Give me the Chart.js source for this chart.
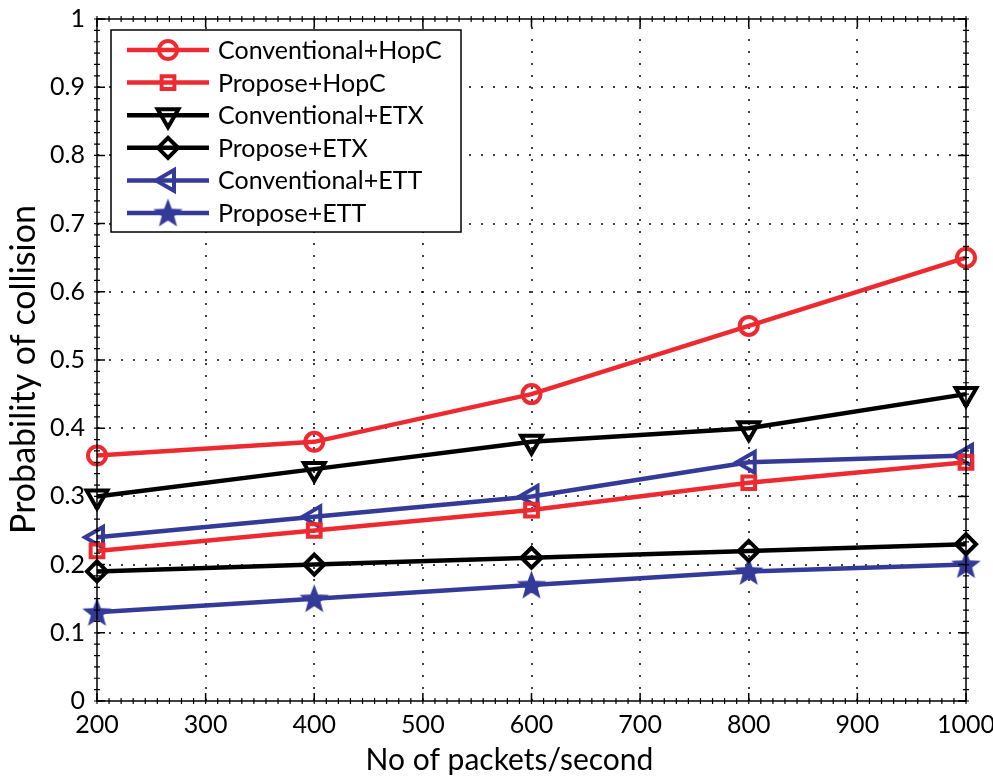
<!DOCTYPE html>
<html>
<head>
<meta charset="utf-8">
<script src="https://cdn.jsdelivr.net/npm/chart.js@4/dist/chart.umd.min.js"></script>
<style>
  html, body { margin: 0; padding: 0; background: #fff; }
  #wrap { width: 993px; height: 776px; }
</style>
</head>
<body>
<div id="wrap"><canvas id="c" width="993" height="776"></canvas></div>
<script>
// ---- data ----
const xValues = [200, 400, 600, 800, 1000];
const seriesNames = ['Conventional+HopC', 'Propose+HopC', 'Conventional+ETX', 'Propose+ETX', 'Conventional+ETT', 'Propose+ETT'];
const conventionalHopC = [0.36, 0.38, 0.45, 0.55, 0.65];
const proposeHopC      = [0.22, 0.25, 0.28, 0.32, 0.35];
const conventionalETX  = [0.30, 0.34, 0.38, 0.40, 0.45];
const proposeETX       = [0.19, 0.20, 0.21, 0.22, 0.23];
const conventionalETT  = [0.24, 0.27, 0.30, 0.35, 0.36];
const proposeETT       = [0.13, 0.15, 0.17, 0.19, 0.20];
const xTicks = [200, 300, 400, 500, 600, 700, 800, 900, 1000];
const yTicks = [0, 0.1, 0.2, 0.3, 0.4, 0.5, 0.6, 0.7, 0.8, 0.9, 1];
const xTickLabels = ['200', '300', '400', '500', '600', '700', '800', '900', '1000'];
const yTickLabels = ['0', '0.1', '0.2', '0.3', '0.4', '0.5', '0.6', '0.7', '0.8', '0.9', '1'];
const xTitle = 'No of packets/second';
const yTitle = 'Probability of collision';

// ---- styles ----
const RED = '#ec2a30', BLUE = '#343a98', BLACK = '#000000';
const FONT = "Lato, 'Noto Sans', 'DejaVu Sans', sans-serif";

// filled five-point star marker
function makeStar(rOuter, color) {
  const s = Math.ceil(rOuter * 2 + 2);
  const cv = document.createElement('canvas');
  cv.width = s; cv.height = s;
  const g = cv.getContext('2d');
  const cx = s / 2, cy = s / 2 + 1, rInner = rOuter * 0.42;
  g.beginPath();
  for (let i = 0; i < 10; i++) {
    const r = i % 2 === 0 ? rOuter : rInner;
    const a = -Math.PI / 2 + i * Math.PI / 5;
    const px = cx + r * Math.cos(a), py = cy + r * Math.sin(a);
    if (i === 0) g.moveTo(px, py); else g.lineTo(px, py);
  }
  g.closePath();
  g.fillStyle = color;
  g.fill();
  return cv;
}
const starImg = makeStar(15.5, BLUE);

const seriesValues = [conventionalHopC, proposeHopC, conventionalETX, proposeETX, conventionalETT, proposeETT];
const seriesColors = [RED, RED, BLACK, BLACK, BLUE, BLUE];
const seriesMarkers = [
  { style: 'circle',   rotation: 0,   radius: 9 },
  { style: 'rect',     rotation: 0,   radius: 9 },
  { style: 'triangle', rotation: 180, radius: 12 },
  { style: 'rectRot',  rotation: 0,   radius: 10 },
  { style: 'triangle', rotation: 270, radius: 12 },
  { style: starImg,    rotation: 0,   radius: 15 }
];

const datasets = seriesNames.map((name, i) => ({
  label: name,
  data: xValues.map((x, j) => ({ x: x, y: seriesValues[i][j] })),
  borderColor: seriesColors[i],
  borderWidth: 4.5,
  pointStyle: seriesMarkers[i].style,
  pointRotation: seriesMarkers[i].rotation,
  pointRadius: seriesMarkers[i].radius,
  pointBorderWidth: 4,
  pointBorderColor: seriesColors[i],
  pointBackgroundColor: 'rgba(0,0,0,0)',
  tension: 0,
  fill: false,
  clip: false
}));

const matlabPlugin = {
  id: 'matlabAxes',
  beforeDatasetsDraw(chart) {
    const { ctx, chartArea: a, scales: { x, y } } = chart;
    ctx.save();
    ctx.strokeStyle = '#000';
    ctx.lineWidth = 1.5;
    ctx.setLineDash([2, 10]);
    xTicks.forEach(v => {
      if (v <= x.min || v >= x.max) return;
      const px = Math.round(x.getPixelForValue(v));
      ctx.beginPath(); ctx.moveTo(px, a.bottom); ctx.lineTo(px, a.top); ctx.stroke();
    });
    yTicks.forEach(v => {
      if (v <= y.min || v >= y.max) return;
      const py = Math.round(y.getPixelForValue(v));
      ctx.beginPath(); ctx.moveTo(a.left, py); ctx.lineTo(a.right, py); ctx.stroke();
    });
    ctx.restore();
  },
  afterDatasetsDraw(chart) {
    const { ctx, chartArea: a, scales: { x, y } } = chart;
    ctx.save();
    ctx.strokeStyle = '#000';
    ctx.setLineDash([]);
    ctx.lineWidth = 1.5;
    ctx.strokeRect(a.left, a.top, a.right - a.left, a.bottom - a.top);
    // minor ticks
    ctx.lineWidth = 1.2;
    const xStep = 100 / 9;
    for (let v = x.min; v <= x.max + 0.01; v += xStep) {
      const px = x.getPixelForValue(v);
      ctx.beginPath();
      ctx.moveTo(px, a.bottom - 3); ctx.lineTo(px, a.bottom + 3);
      ctx.moveTo(px, a.top - 3); ctx.lineTo(px, a.top + 3);
      ctx.stroke();
    }
    const yStep = 0.1 / 6;
    for (let v = y.min; v <= y.max + 0.0001; v += yStep) {
      const py = y.getPixelForValue(v);
      ctx.beginPath();
      ctx.moveTo(a.left - 3, py); ctx.lineTo(a.left + 3, py);
      ctx.moveTo(a.right - 3, py); ctx.lineTo(a.right + 3, py);
      ctx.stroke();
    }
    // major ticks (inside)
    ctx.lineWidth = 1.5;
    xTicks.forEach(v => {
      const px = x.getPixelForValue(v);
      ctx.beginPath();
      ctx.moveTo(px, a.bottom); ctx.lineTo(px, a.bottom - 8);
      ctx.moveTo(px, a.top); ctx.lineTo(px, a.top + 8);
      ctx.stroke();
    });
    yTicks.forEach(v => {
      const py = y.getPixelForValue(v);
      ctx.beginPath();
      ctx.moveTo(a.left, py); ctx.lineTo(a.left + 8, py);
      ctx.moveTo(a.right, py); ctx.lineTo(a.right - 8, py);
      ctx.stroke();
    });
    ctx.restore();
  },
  afterDraw(chart) {
    const { ctx } = chart;
    ctx.save();
    // axis titles
    ctx.fillStyle = '#000';
    ctx.font = '30px ' + FONT;
    ctx.textAlign = 'center';
    ctx.textBaseline = 'alphabetic';
    ctx.fillText(xTitle, 509.5, 770);
    ctx.save();
    ctx.translate(35, 369.5);
    ctx.rotate(-Math.PI / 2);
    ctx.font = '34px ' + FONT;
    ctx.fillText(yTitle, 0, 0);
    ctx.restore();
    // legend
    const box = { left: 111, top: 30, right: 461, bottom: 232 };
    ctx.setLineDash([]);
    ctx.fillStyle = '#fff';
    ctx.fillRect(box.left, box.top, box.right - box.left, box.bottom - box.top);
    ctx.strokeStyle = '#000';
    ctx.lineWidth = 1.5;
    ctx.strokeRect(box.left, box.top, box.right - box.left, box.bottom - box.top);
    const rowH = 32.6, y0 = 50;
    chart.data.datasets.forEach((ds, i) => {
      const yy = y0 + i * rowH;
      ctx.strokeStyle = ds.borderColor;
      ctx.lineWidth = 4.5;
      ctx.beginPath(); ctx.moveTo(127, yy); ctx.lineTo(209, yy); ctx.stroke();
      ctx.fillStyle = ds.pointBackgroundColor;
      ctx.strokeStyle = ds.pointBorderColor;
      ctx.lineWidth = ds.pointBorderWidth;
      Chart.helpers.drawPoint(ctx, {
        pointStyle: ds.pointStyle,
        rotation: ds.pointRotation,
        radius: ds.pointRadius,
        borderWidth: ds.pointBorderWidth
      }, 168, yy);
      ctx.fillStyle = '#000';
      ctx.font = '25px ' + FONT;
      ctx.textAlign = 'left';
      ctx.textBaseline = 'middle';
      ctx.fillText(ds.label, 218, yy + 1);
    });
    ctx.restore();
  }
};

Chart.defaults.color = '#000';
Chart.defaults.font.family = FONT;

new Chart(document.getElementById('c'), {
  type: 'line',
  data: { datasets: datasets },
  plugins: [matlabPlugin],
  options: {
    responsive: false,
    devicePixelRatio: 1,
    animation: false,
    events: [],
    layout: { padding: { left: 0, right: 27, top: 17, bottom: 0 } },
    plugins: { legend: { display: false }, tooltip: { enabled: false } },
    scales: {
      x: {
        type: 'linear',
        min: 200, max: 1000,
        afterBuildTicks: s => { s.ticks = xTicks.map(v => ({ value: v })); },
        afterFit: s => { s.height = 75; s.paddingLeft = 0; s.paddingRight = 0; },
        grid: { display: false, drawTicks: false },
        border: { display: false },
        ticks: { padding: 9, font: { size: 25 }, maxRotation: 0, autoSkip: false,
                 callback: (v, i) => xTickLabels[i] },
        title: { display: false }
      },
      y: {
        type: 'linear',
        min: 0, max: 1,
        afterBuildTicks: s => { s.ticks = yTicks.map(v => ({ value: v })); },
        afterFit: s => { s.width = 97; s.paddingTop = 0; s.paddingBottom = 0; },
        grid: { display: false, drawTicks: false },
        border: { display: false },
        ticks: { padding: 12, font: { size: 25 }, autoSkip: false,
                 callback: (v, i) => yTickLabels[i] },
        title: { display: false }
      }
    }
  }
});
</script>
</body>
</html>
